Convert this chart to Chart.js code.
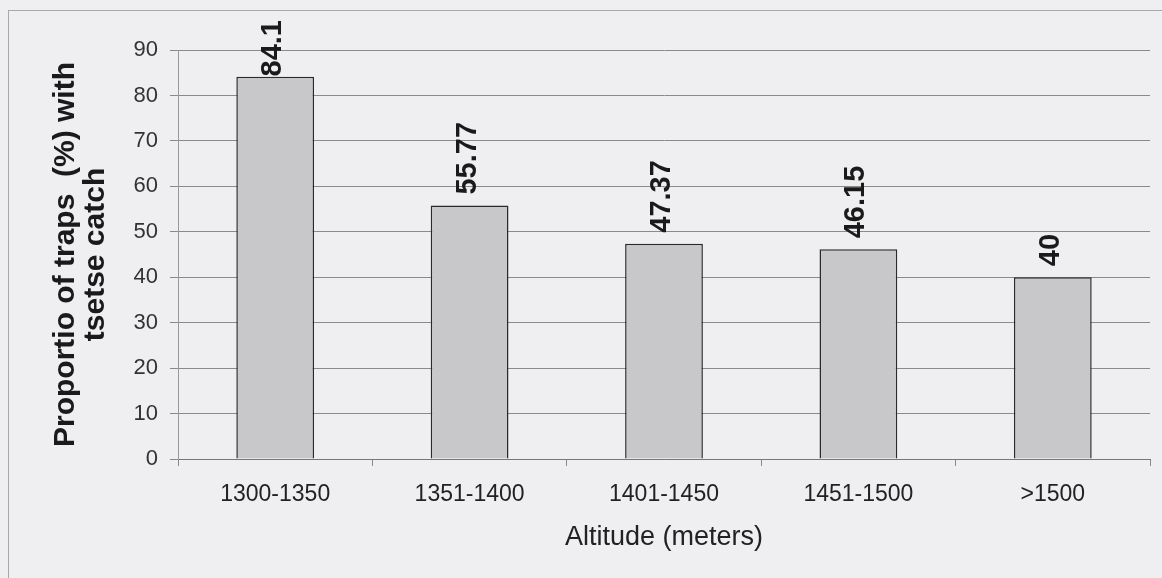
<!DOCTYPE html>
<html>
<head>
<meta charset="utf-8">
<script src="https://cdn.jsdelivr.net/npm/chart.js@4"></script>
<style>
  html, body { margin: 0; padding: 0; background: #efeff1; }
  #wrap { width: 1162px; height: 578px; }
</style>
</head>
<body>
<div id="wrap"><canvas id="myChart" width="1162" height="578"></canvas></div>
<script>
// * Chart data
const altitudes = ["1300-1350", "1351-1400", "1401-1450", "1451-1500", ">1500"];
const trapShares = [84.1, 55.77, 47.37, 46.15, 40];
const yTicks = [0, 10, 20, 30, 40, 50, 60, 70, 80, 90];

const FONT = "'Liberation Sans', Arial, sans-serif";

// * Frame around the whole picture
const framePlugin = {
    id: "frame",
    beforeDraw(chart) {
        const c = chart.ctx;
        c.save();
        c.fillStyle = "#efeff1";
        c.fillRect(0, 0, chart.width, chart.height);
        c.strokeStyle = "#a8a8aa";
        c.lineWidth = 1;
        c.strokeRect(8.5, 10.5, chart.width + 10, chart.height + 10);
        c.restore();
    },
};

// * Rotated value labels above each bar, kept inside the frame
const valueLabels = {
    id: "valueLabels",
    afterDatasetsDraw(chart) {
        const c = chart.ctx;
        const meta = chart.getDatasetMeta(0);
        c.save();
        c.fillStyle = "#1a1a1a";
        c.font = "bold 29px " + FONT;
        c.textAlign = "left";
        c.textBaseline = "middle";
        meta.data.forEach((bar, i) => {
            const txt = String(trapShares[i]);
            const w = c.measureText(txt).width;
            const base = Math.max(bar.y - 11, 20 + w);
            c.save();
            c.translate(bar.x - 2, base);
            c.rotate(-Math.PI / 2);
            c.fillText(txt, 0, 0);
            c.restore();
        });
        c.restore();
    },
};

const ctx = document.getElementById("myChart").getContext("2d");

const chart = new Chart(ctx, {
    type: "bar",
    data: {
        labels: altitudes,
        datasets: [
            {
                data: trapShares,
                backgroundColor: "#c8c8ca",
                borderColor: "#2a2a2a",
                borderWidth: 1.5,
                categoryPercentage: 1,
                barPercentage: 0.4,
            },
        ],
    },
    options: {
        responsive: false,
        animation: false,
        layout: { padding: { top: 50, right: 12, left: 0, bottom: 0 } },
        plugins: {
            legend: { display: false },
            tooltip: { enabled: false },
        },
        scales: {
            x: {
                afterFit: (s) => { s.height = 119; },
                grid: {
                    offset: true,
                    drawOnChartArea: false,
                    drawTicks: true,
                    tickLength: 7,
                    color: "#8a8a8a",
                },
                border: { color: "#777", width: 1 },
                ticks: {
                    color: "#222",
                    font: { family: FONT, size: 23 },
                    padding: 15,
                    maxRotation: 0,
                },
                title: {
                    display: true,
                    text: "Altitude (meters)",
                    color: "#222",
                    font: { family: FONT, size: 27 },
                    padding: { top: 0, bottom: 24 },
                },
            },
            y: {
                min: 0,
                max: 90,
                afterFit: (s) => { s.width = 178; },
                afterBuildTicks: (s) => { s.ticks = yTicks.map((v) => ({ value: v })); },
                grid: {
                    color: "#8a8a8a",
                    lineWidth: 1,
                    tickLength: 8,
                },
                border: { color: "#999", width: 1 },
                ticks: {
                    color: "#333",
                    font: { family: FONT, size: 22 },
                    padding: 12,
                },
                title: {
                    display: true,
                    text: ["Proportio of traps  (%) with", "tsetse catch"],
                    color: "#1a1a1a",
                    font: { family: FONT, size: 30, weight: "bold", lineHeight: 1.0 },
                    padding: { top: 51, bottom: 0 },
                },
            },
        },
    },
    plugins: [framePlugin, valueLabels],
});
</script>
</body>
</html>
